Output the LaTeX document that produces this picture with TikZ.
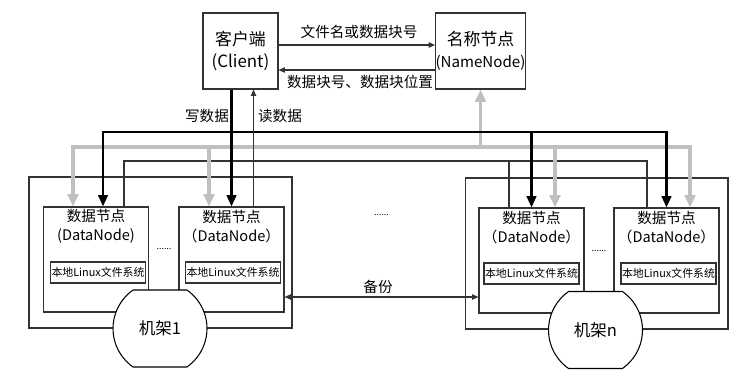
\documentclass[tikz,border=0pt]{standalone}
\usepackage{fontspec}
\setmainfont{Noto Sans CJK SC}
\usetikzlibrary{arrows.meta,calc,shapes.misc}
\tikzset{
    hdfs diagram/.style = {x=0.02cm, y=-0.02cm},
    thin line/.style    = {draw=black!80, line width=0.6pt,
                           >={Triangle[length=3.6pt, width=3pt]}},
    write line/.style   = {draw=black, line width=1.3pt,
                           >={Triangle[length=6.5pt, width=5.5pt]}},
    gray line/.style    = {draw=black!25, line width=1.8pt,
                           >={Triangle[length=7pt, width=6pt]}},
    block/.style        = {draw=black!80, line width=0.6pt, inner sep=0pt,
                           align=center},
    master/.style       = {block, minimum height=1.52cm,
                           font=\fontsize{9.6}{12.5}\selectfont},
    datanode/.style     = {block, minimum width=2.1cm, minimum height=2.1cm},
    dntext/.style       = {align=center, inner sep=0pt,
                           font=\fontsize{8.3}{10.8}\selectfont},
    fsbox/.style        = {block, minimum width=1.9cm, minimum height=0.42cm,
                           font=\fontsize{6.2}{7}\selectfont},
    rackbox/.style      = {block, minimum width=5.26cm, minimum height=3.02cm},
    rack/.style         = {draw=black, line width=0.6pt, fill=white,
                           rounded rectangle, rounded rectangle arc length=110,
                           minimum width=1.52cm, minimum height=1.54cm,
                           inner sep=0pt, font=\fontsize{9.4}{10}\selectfont},
    sig/.style          = {inner sep=0pt, font=\fontsize{8.3}{10}\selectfont},
    dots/.style         = {inner sep=0pt, anchor=base,
                           font=\fontsize{5}{6}\selectfont}
}

\begin{document}
\begin{tikzpicture}[hdfs diagram]
\useasboundingbox (0,0) rectangle (746,382);

% ================= Racks =================
\node[rackbox] (rackbox1) at (160.5,252.5) {};
\node[rackbox] (rackboxn) at (596.5,253.5) {};

% ================= Client and NameNode =================
\node[master, minimum width=1.5cm] (client) at (240.5,51) {客户端\\(Client)};
\node[master, minimum width=1.78cm] (namenode) at (480.5,51)
    {名称节点\\{\fontsize{8.6}{12.5}\selectfont(NameNode)}};

% ================= DataNodes =================
\node[datanode] (dn1) at (96,259.5) {};
\node[datanode] (dn2) at (231.5,259.5) {};
\node[datanode] (dn3) at (531.5,260.5) {};
\node[datanode] (dn4) at (666.5,260.5) {};
\node[dntext] (dn1 title) at (96,226.5) {数据节点\\(DataNode)};
\node[dntext] (dn2 title) at (231.5,226.5) {数据节点\\（DataNode）};
\node[dntext] (dn3 title) at (531.5,227.5) {数据节点\\（DataNode）};
\node[dntext] (dn4 title) at (666.5,227.5) {数据节点\\（DataNode）};
\node[fsbox] (fs1) at (98,272.5) {本地Linux文件系统};
\node[fsbox] (fs2) at (233,272.5) {本地Linux文件系统};
\node[fsbox] (fs3) at (531.5,273.5) {本地Linux文件系统};
\node[fsbox] (fs4) at (668.5,273.5) {本地Linux文件系统};
\node[dots] (dots1) at (164,249) {......};
\node[dots] (dots2) at (599,251) {......};
\node[dots] (dots3) at (381.5,215) {......};

% ================= Metadata requests =================
\draw[thin line,->] ($(client.east)+(0,-6)$) -- ($(namenode.west)+(0,-6)$);
\draw[thin line,->] ($(namenode.west)+(0,19)$) -- ($(client.east)+(0,19)$);
\node[sig] (ask) at (359,32) {文件名或数据块号};
\node[sig] (reply) at (360,82) {数据块号、数据块位置};

% ================= Taps on the DataNodes =================
\coordinate (wbus) at (0,132);
\coordinate (gbus) at (0,147);
\coordinate (rbus) at (0,161);
\coordinate (dn1 w) at ($(dn1.north)+(7,0)$);
\coordinate (dn1 g) at ($(dn1.north)+(-23,0)$);
\coordinate (dn1 r) at ($(dn1.north)+(28,0)$);
\coordinate (dn2 g) at ($(dn2.north)+(-22.5,0)$);
\coordinate (dn2 r) at ($(dn2.north)+(22,0)$);
\coordinate (dn3 g) at ($(dn3.north)+(23.5,0)$);
\coordinate (dn3 r) at ($(dn3.north)+(-22.5,0)$);
\coordinate (dn4 g) at ($(dn4.north)+(23.5,0)$);
\coordinate (dn4 r) at ($(dn4.north)+(-19.5,0)$);

% ================= Report lines =================
\draw[thin line] (dn1 r) |- (rbus -| dn4 r) -- (dn4 r);
\draw[thin line] (rbus -| dn3 r) -- (dn3 r);

% ================= Replica traffic =================
\draw[gray line,<->] (dn1 g) |- (gbus -| dn4 g) -- (dn4 g);
\draw[gray line,->] (gbus -| dn2 g) -- (dn2 g);
\draw[gray line,->] (gbus -| dn3 g) -- (dn3 g);
\draw[gray line,->] (gbus -| namenode.south) -- (namenode.south);

% ================= Write and read =================
\draw[write line,<->] (dn1 w) |- (wbus -| dn4.north) -- (dn4.north);
\draw[write line,->] (wbus -| dn3.north) -- (dn3.north);
\draw[write line,->] (client.south -| dn2.north) -- (dn2.north);
\draw[thin line,->] (dn2 r) -- (dn2 r |- client.south);
\node[sig] (write) at (207,116) {写数据};
\node[sig] (read) at (280,116) {读数据};

% ================= Backup =================
\coordinate (backup) at (0,297);
\draw[thin line,<->] (backup -| dn2.east) -- (backup -| dn3.west);
\node[sig] (copy) at (378,287) {备份};

% ================= Rack labels =================
\node[rack] (rack1) at (160,328.5) {机架1};
\node[rack] (rackn) at (595.5,330) {机架n};

\end{tikzpicture}
\end{document}
